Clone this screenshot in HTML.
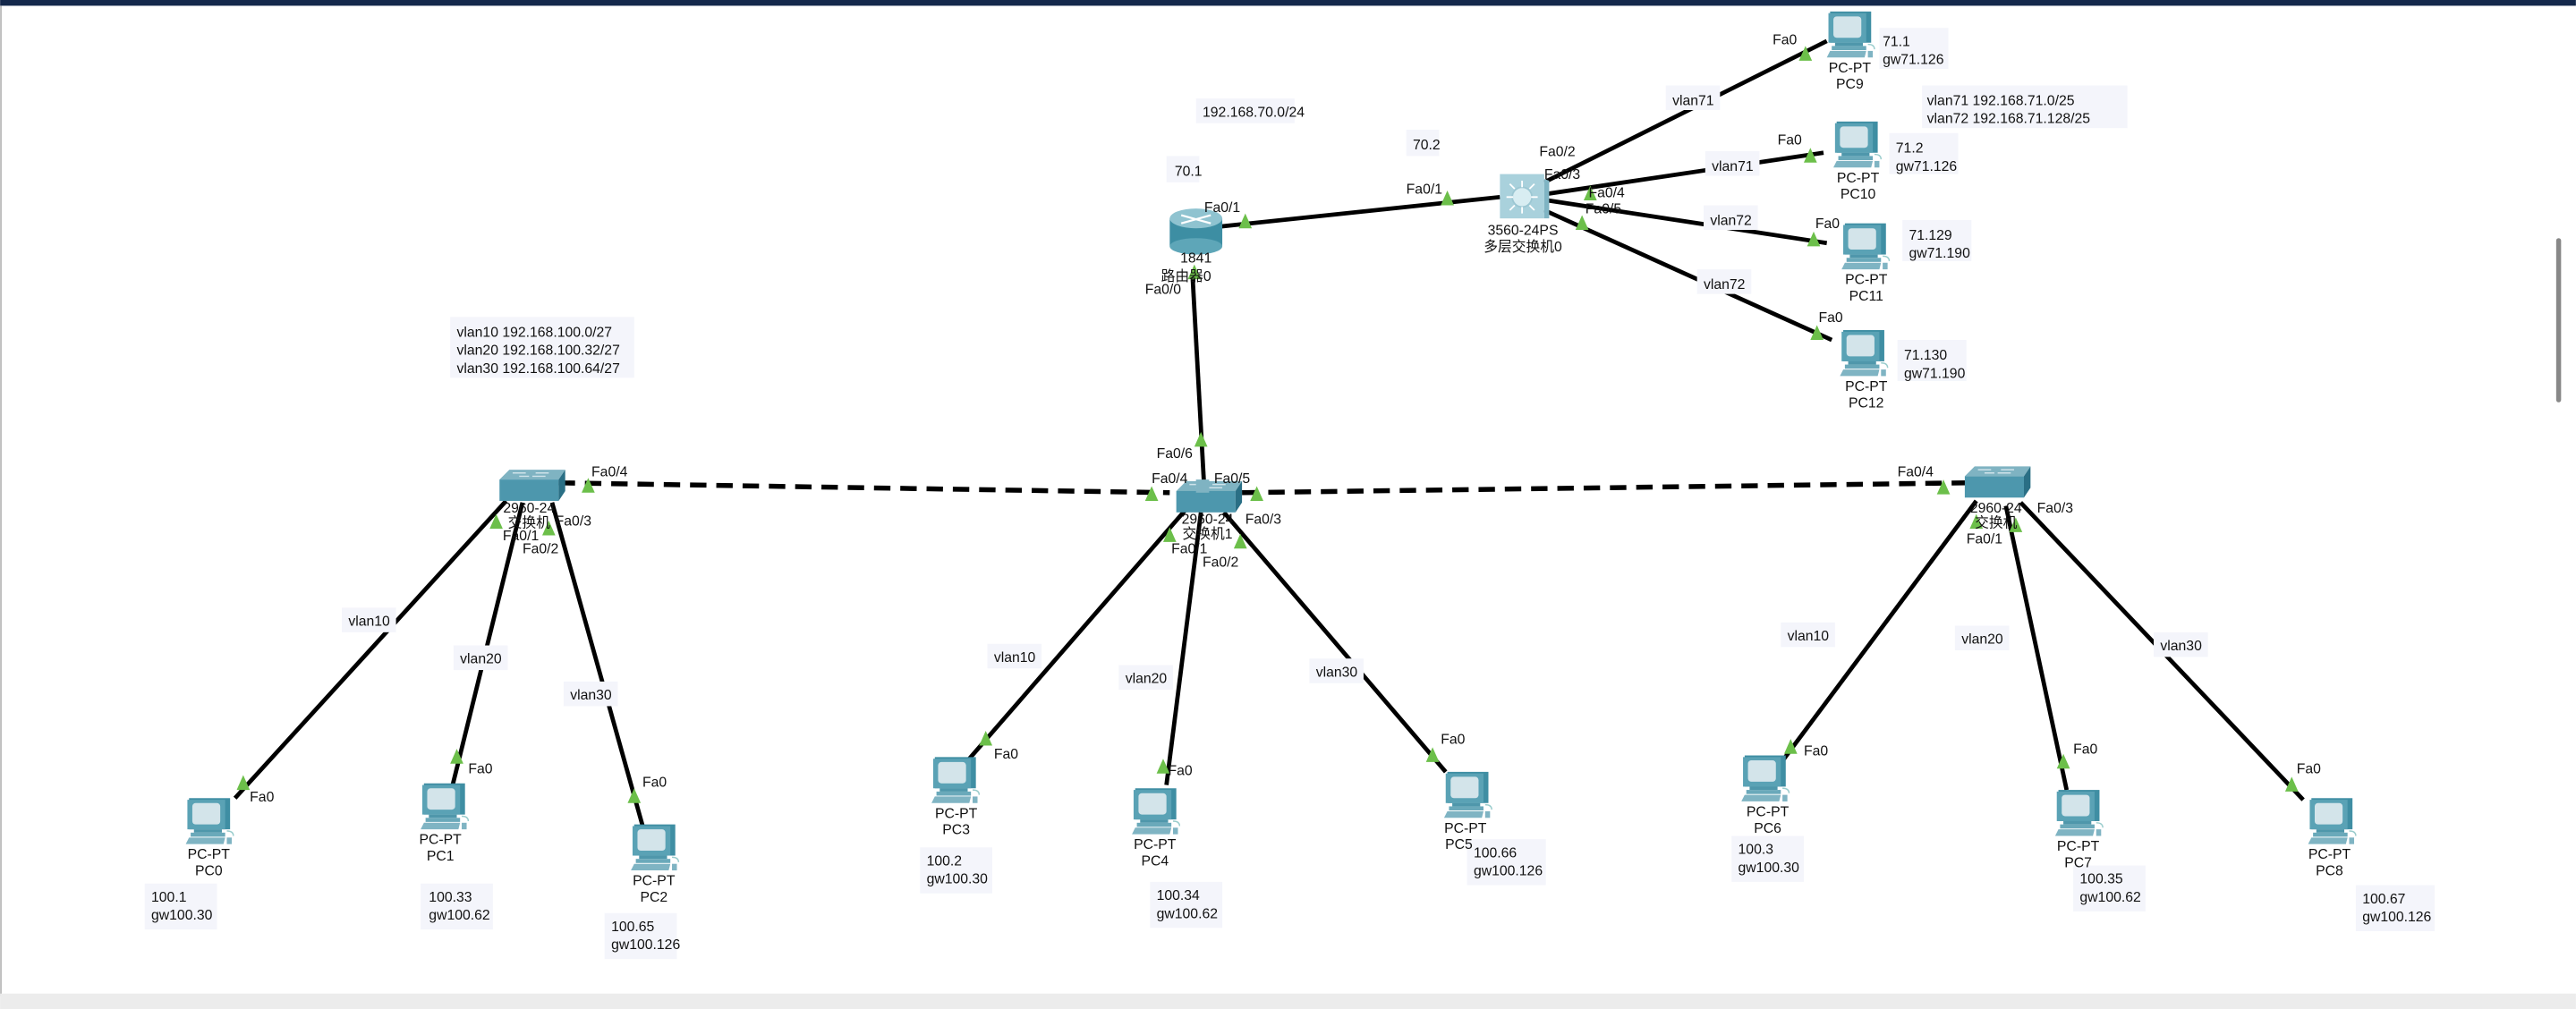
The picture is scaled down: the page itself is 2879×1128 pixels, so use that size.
<!DOCTYPE html>
<html><head><meta charset="utf-8"><style>
html,body{margin:0;padding:0;background:#fff;overflow:hidden}
svg{display:block}
text{font-family:"Liberation Sans","Noto Sans CJK SC",sans-serif;font-size:8.6px;fill:#111}
</style></head><body>
<svg width="2879" height="1128" viewBox="0 0 1568 614.4" xmlns="http://www.w3.org/2000/svg">
<defs>
<g id="pc">
 <rect x="-12" y="0" width="25" height="19" fill="#3f8ea3"/>
 <rect x="-13" y="1" width="23" height="18" fill="#5aa2b5"/>
 <rect x="-10" y="3" width="17" height="13" rx="2" fill="#d3e4ea"/>
 <rect x="-9" y="19" width="17" height="2" fill="#4f97ab"/>
 <rect x="-11" y="21" width="21" height="2.5" fill="#6aa9ba"/>
 <polygon points="-12,24 10,24 9,28 -14,28" fill="#7fb4c3"/>
 <rect x="11" y="24" width="3" height="4" fill="#7fb4c3"/>
 <path d="M11,20 q4,0 4,3" stroke="#9cc" fill="none" stroke-width="0.8"/>
</g>
<g id="sw">
 <polygon points="-18,-6 -12,-12 22,-12 18,-6" fill="#7fb3c2"/>
 <rect x="-18" y="-6" width="36" height="13" fill="#4d97ad"/>
 <polygon points="18,-6 22,-12 22,1 18,7" fill="#2a6f85"/>
 <path d="M-10,-10 h8 M2,-8 h8 M-6,-8 h6 M4,-10 h8" stroke="#cfe3ea" stroke-width="0.8"/>
</g>
<path id="tri" d="M-4,4 L4,4 L0,-5 Z" fill="#6cbf4a"/>
</defs>
<rect x="0" y="0" width="1568" height="3.5" fill="#14284b"/>
<rect x="0" y="3.5" width="1" height="603" fill="#bbb"/>
<rect x="0" y="605" width="1568" height="10" fill="#ececec"/>
<rect x="1556" y="145" width="3" height="100" rx="1.5" fill="#888"/>

<g stroke="#000" stroke-width="2.6" fill="none">
 <line x1="742" y1="138" x2="913" y2="120"/>
 <line x1="940" y1="111" x2="1112" y2="25"/>
 <line x1="942" y1="118" x2="1110" y2="93"/>
 <line x1="942" y1="122" x2="1112" y2="148"/>
 <line x1="940" y1="128" x2="1115" y2="207"/>
 <line x1="726" y1="170" x2="733" y2="297"/>
 <line x1="308" y1="305" x2="143" y2="486"/>
 <line x1="318" y1="306" x2="275" y2="480"/>
 <line x1="336" y1="306" x2="392" y2="506"/>
 <line x1="722" y1="310" x2="590" y2="462"/>
 <line x1="731" y1="312" x2="710" y2="478"/>
 <line x1="745" y1="312" x2="880" y2="470"/>
 <line x1="1203" y1="305" x2="1083" y2="466"/>
 <line x1="1221" y1="308" x2="1258" y2="481"/>
 <line x1="1230" y1="306" x2="1402" y2="487"/>
 <g stroke-dasharray="10,6" stroke-width="3">
  <line x1="340" y1="294" x2="712" y2="300"/>
  <line x1="756" y1="300" x2="1198" y2="294"/>
 </g>
</g>

<g fill="#f4f5fb">
 <rect x="728" y="60" width="60" height="15"/>
 <rect x="710" y="95" width="20" height="16"/>
 <rect x="856" y="79" width="20" height="16"/>
 <rect x="1014" y="52" width="33" height="15"/>
 <rect x="1038" y="92" width="33" height="15"/>
 <rect x="1037" y="125" width="33" height="15"/>
 <rect x="1033" y="164" width="33" height="15"/>
 <rect x="1144" y="17" width="42" height="25"/>
 <rect x="1150" y="81" width="42" height="25"/>
 <rect x="1158" y="134" width="42" height="25"/>
 <rect x="1155" y="207" width="42" height="25"/>
 <rect x="1170" y="52" width="125" height="26"/>
 <rect x="274" y="193" width="112" height="37"/>
 <rect x="208" y="370" width="33" height="15"/>
 <rect x="276" y="393" width="33" height="15"/>
 <rect x="343" y="415" width="33" height="15"/>
 <rect x="601" y="392" width="33" height="15"/>
 <rect x="681" y="405" width="33" height="15"/>
 <rect x="797" y="401" width="33" height="15"/>
 <rect x="1084" y="379" width="33" height="15"/>
 <rect x="1190" y="381" width="33" height="15"/>
 <rect x="1311" y="385" width="33" height="15"/>
 <rect x="88" y="538" width="44" height="28"/>
 <rect x="256" y="538" width="44" height="28"/>
 <rect x="368" y="556" width="44" height="28"/>
 <rect x="560" y="516" width="44" height="28"/>
 <rect x="700" y="537" width="44" height="28"/>
 <rect x="893" y="511" width="48" height="28"/>
 <rect x="1054" y="509" width="44" height="28"/>
 <rect x="1262" y="527" width="44" height="28"/>
 <rect x="1434" y="539" width="48" height="28"/>
</g>

<g>
 <rect x="712" y="133" width="32" height="17" fill="#3d8ea3"/>
 <ellipse cx="728" cy="150" rx="16" ry="5" fill="#5ea6b8"/>
 <ellipse cx="728" cy="133" rx="16" ry="6" fill="#8fc3d0"/>
 <path d="M719,131 l18,5 M737,131 l-18,5" stroke="#fff" stroke-width="1.2"/>
</g>
<g>
 <rect x="913" y="106" width="27" height="27" fill="#a9d1dc"/>
 <polygon points="940,109 943,110 943,133 940,133" fill="#7fb4c3"/>
 <circle cx="926.5" cy="120" r="6" fill="#d8edf2" stroke="#9cc7d3"/>
 <path d="M917,120 h4 M932,120 h4 M926.5,110 v4 M926.5,126 v4 M919,112 l3,3 M934,112 l-3,3 M919,128 l3,-3 M934,128 l-3,-3" stroke="#fff" stroke-width="1"/>
</g>
<use href="#sw" x="322" y="298"/>
<use href="#sw" x="734" y="305"/>
<rect x="728" y="292" width="8" height="8" fill="#7fb3c2"/>
<use href="#sw" x="1214" y="296"/>

<use href="#pc" x="1126" y="7"/>
<use href="#pc" x="1130" y="74"/>
<use href="#pc" x="1135" y="136"/>
<use href="#pc" x="1134" y="201"/>
<use href="#pc" x="127" y="486"/>
<use href="#pc" x="270" y="477"/>
<use href="#pc" x="398" y="502"/>
<use href="#pc" x="581" y="461"/>
<use href="#pc" x="703" y="480"/>
<use href="#pc" x="893" y="470"/>
<use href="#pc" x="1074" y="460"/>
<use href="#pc" x="1265" y="481"/>
<use href="#pc" x="1419" y="486"/>

<use href="#tri" x="758" y="135"/>
<use href="#tri" x="881" y="121"/>
<use href="#tri" x="727" y="166"/>
<use href="#tri" x="1099" y="33"/>
<use href="#tri" x="1102" y="95"/>
<use href="#tri" x="1104" y="146"/>
<use href="#tri" x="1106" y="203"/>
<use href="#tri" x="968" y="118"/>
<use href="#tri" x="963" y="136"/>
<use href="#tri" x="731" y="268"/>
<use href="#tri" x="358" y="296"/>
<use href="#tri" x="701" y="301"/>
<use href="#tri" x="765" y="301"/>
<use href="#tri" x="1183" y="297"/>
<use href="#tri" x="302" y="318"/>
<use href="#tri" x="334" y="322"/>
<use href="#tri" x="148" y="477"/>
<use href="#tri" x="278" y="461"/>
<use href="#tri" x="386" y="485"/>
<use href="#tri" x="712" y="326"/>
<use href="#tri" x="755" y="330"/>
<use href="#tri" x="600" y="450"/>
<use href="#tri" x="708" y="467"/>
<use href="#tri" x="872" y="460"/>
<use href="#tri" x="1203" y="318"/>
<use href="#tri" x="1227" y="320"/>
<use href="#tri" x="1090" y="455"/>
<use href="#tri" x="1256" y="464"/>
<use href="#tri" x="1395" y="478"/>

<text x="732" y="71">192.168.70.0/24</text>
<text x="715" y="107">70.1</text>
<text x="860" y="91">70.2</text>
<text x="733" y="129">Fa0/1</text>
<text x="856" y="118">Fa0/1</text>
<text x="697" y="179">Fa0/0</text>
<text x="728" y="160" text-anchor="middle">1841</text>
<text x="722" y="171" text-anchor="middle">路由器0</text>
<text x="927" y="143" text-anchor="middle">3560-24PS</text>
<text x="927" y="153" text-anchor="middle">多层交换机0</text>
<text x="937" y="95">Fa0/2</text>
<text x="940" y="109">Fa0/3</text>
<text x="967" y="120">Fa0/4</text>
<text x="965" y="130">Fa0/5</text>
<text x="1018" y="64">vlan71</text>
<text x="1042" y="104">vlan71</text>
<text x="1041" y="137">vlan72</text>
<text x="1037" y="176">vlan72</text>
<text x="1079" y="27">Fa0</text>
<text x="1082" y="88">Fa0</text>
<text x="1105" y="139">Fa0</text>
<text x="1107" y="196">Fa0</text>
<text x="1146" y="28">71.1</text>
<text x="1146" y="39">gw71.126</text>
<text x="1154" y="93">71.2</text>
<text x="1154" y="104">gw71.126</text>
<text x="1162" y="146">71.129</text>
<text x="1162" y="157">gw71.190</text>
<text x="1159" y="219">71.130</text>
<text x="1159" y="230">gw71.190</text>
<text x="1173" y="64">vlan71 192.168.71.0/25</text>
<text x="1173" y="75">vlan72 192.168.71.128/25</text>
<g text-anchor="middle">
<text x="1126" y="44">PC-PT</text><text x="1126" y="54">PC9</text>
<text x="1131" y="111">PC-PT</text><text x="1131" y="121">PC10</text>
<text x="1136" y="173">PC-PT</text><text x="1136" y="183">PC11</text>
<text x="1136" y="238">PC-PT</text><text x="1136" y="248">PC12</text>
<text x="127" y="523">PC-PT</text><text x="127" y="533">PC0</text>
<text x="268" y="514">PC-PT</text><text x="268" y="524">PC1</text>
<text x="398" y="539">PC-PT</text><text x="398" y="549">PC2</text>
<text x="582" y="498">PC-PT</text><text x="582" y="508">PC3</text>
<text x="703" y="517">PC-PT</text><text x="703" y="527">PC4</text>
<text x="892" y="507">PC-PT</text><text x="888" y="517">PC5</text>
<text x="1076" y="497">PC-PT</text><text x="1076" y="507">PC6</text>
<text x="1265" y="518">PC-PT</text><text x="1265" y="528">PC7</text>
<text x="1418" y="523">PC-PT</text><text x="1418" y="533">PC8</text>
<text x="322" y="312">2960-24</text><text x="322" y="321">交换机</text>
<text x="735" y="319">2960-24</text><text x="735" y="328">交换机1</text>
<text x="1215" y="312">2960-24</text><text x="1215" y="321">交换机</text>
</g>
<text x="278" y="205">vlan10 192.168.100.0/27</text>
<text x="278" y="216">vlan20 192.168.100.32/27</text>
<text x="278" y="227">vlan30 192.168.100.64/27</text>
<text x="360" y="290">Fa0/4</text>
<text x="338" y="320">Fa0/3</text>
<text x="306" y="329">Fa0/1</text>
<text x="318" y="337">Fa0/2</text>
<text x="212" y="381">vlan10</text>
<text x="280" y="404">vlan20</text>
<text x="347" y="426">vlan30</text>
<text x="152" y="488">Fa0</text>
<text x="285" y="471">Fa0</text>
<text x="391" y="479">Fa0</text>
<text x="92" y="549">100.1</text>
<text x="92" y="560">gw100.30</text>
<text x="261" y="549">100.33</text>
<text x="261" y="560">gw100.62</text>
<text x="372" y="567">100.65</text>
<text x="372" y="578">gw100.126</text>
<text x="704" y="279">Fa0/6</text>
<text x="701" y="294">Fa0/4</text>
<text x="739" y="294">Fa0/5</text>
<text x="758" y="319">Fa0/3</text>
<text x="713" y="337">Fa0/1</text>
<text x="732" y="345">Fa0/2</text>
<text x="605" y="403">vlan10</text>
<text x="685" y="416">vlan20</text>
<text x="801" y="412">vlan30</text>
<text x="605" y="462">Fa0</text>
<text x="711" y="472">Fa0</text>
<text x="877" y="453">Fa0</text>
<text x="564" y="527">100.2</text>
<text x="564" y="538">gw100.30</text>
<text x="704" y="548">100.34</text>
<text x="704" y="559">gw100.62</text>
<text x="897" y="522">100.66</text>
<text x="897" y="533">gw100.126</text>
<text x="1155" y="290">Fa0/4</text>
<text x="1240" y="312">Fa0/3</text>
<text x="1197" y="331">Fa0/1</text>
<text x="1088" y="390">vlan10</text>
<text x="1194" y="392">vlan20</text>
<text x="1315" y="396">vlan30</text>
<text x="1098" y="460">Fa0</text>
<text x="1262" y="459">Fa0</text>
<text x="1398" y="471">Fa0</text>
<text x="1058" y="520">100.3</text>
<text x="1058" y="531">gw100.30</text>
<text x="1266" y="538">100.35</text>
<text x="1266" y="549">gw100.62</text>
<text x="1438" y="550">100.67</text>
<text x="1438" y="561">gw100.126</text>
</svg>
</body></html>
